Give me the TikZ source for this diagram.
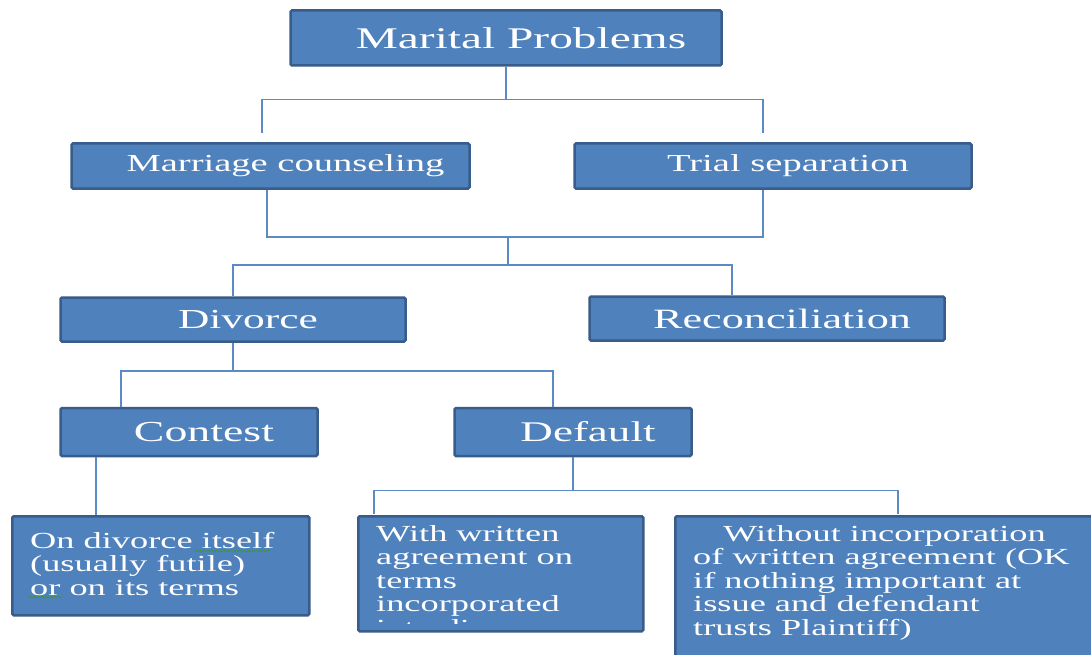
\documentclass[tikz,border=0pt]{standalone}
\usepackage{fontspec}
\setmainfont[FakeStretch=1.58]{Liberation Serif}
\usetikzlibrary{decorations.pathmorphing}

\definecolor{boxfill}{RGB}{79,129,189}
\definecolor{boxedge}{RGB}{56,93,138}
\definecolor{linkcol}{RGB}{91,138,198}
\definecolor{spellgreen}{RGB}{60,150,60}
\newcommand{\bsize}[1]{\fontsize{#1}{#1}\selectfont}

\begin{document}
\begin{tikzpicture}[x=1pt,y=-1pt,
  box/.style={draw=boxedge,fill=boxfill,line width=2.5pt,rounded corners=1.5pt,
    text=white,inner sep=0pt,execute at begin node=\hspace*{30pt}},
  leafbox/.style={draw=boxedge,fill=boxfill,line width=2.5pt,rounded corners=1.5pt,
    inner sep=0pt,anchor=north west},
  leaftext/.style={text=white,inner sep=0pt,align=left,anchor=north west,
    font=\fontsize{23}{23.5}\selectfont},
  link/.style={draw=linkcol,line width=1.5pt},
  squiggle/.style={draw=spellgreen,line width=0.8pt,decorate,
    decoration={snake,amplitude=0.8pt,segment length=4pt}}]
\useasboundingbox (0,0) rectangle (1091,655);
\fill[white] (0,0) rectangle (1091,655);
\clip (0,0) rectangle (1091,655);

% top levels
\node[box,minimum width=431pt,minimum height=55pt,font=\bsize{30}] (marital) at (506,38) {Marital Problems};
\node[box,minimum width=398pt,minimum height=45pt,font=\bsize{24.4}] (counsel) at (270.5,166) {Marriage counseling};
\node[box,minimum width=397pt,minimum height=45pt,font=\bsize{24.4}] (trial) at (773,166) {Trial separation};
\node[box,minimum width=345pt,minimum height=44pt,font=\bsize{27.5}] (divorce) at (233,319.5) {Divorce};
\node[box,minimum width=355pt,minimum height=44pt,font=\bsize{28}] (recon) at (767,318.5) {Reconciliation};
\node[box,minimum width=257pt,minimum height=48pt,font=\bsize{29}] (contest) at (189,432) {Contest};
\node[box,minimum width=237pt,minimum height=48pt,font=\bsize{28.5}] (default) at (573,432) {Default};

% leaves
\node[leafbox,minimum width=297pt,minimum height=99pt] (onterms) at (11,515) {};
\node[leafbox,minimum width=285pt,minimum height=115pt] (written) at (357,515) {};
\node[leafbox,minimum width=460pt,minimum height=170pt] (nowritten) at (674,515) {};

\node[leaftext] (ontermstxt) at ([xshift=19pt,yshift=-17pt]onterms.north west) {On divorce itself\\(usually futile)\\or on its terms};
\begin{scope}
  \clip (written.north west) rectangle ([yshift=9pt]written.south east);
  \node[leaftext] (writtentxt) at ([xshift=19pt,yshift=-10pt]written.north west) {With written\\agreement on\\terms\\incorporated\\into divorce};
\end{scope}
\node[leaftext] (nowrittentxt) at ([xshift=19pt,yshift=-10pt]nowritten.north west) {\hspace*{30pt}Without incorporation\\of written agreement (OK\\if nothing important at\\issue and defendant\\trusts Plaintiff)};

% spelling marks
\draw[squiggle] (195,551) -- (270,551);
\draw[squiggle] (29,597) -- (62,597);

% connectors
\draw[link] (marital.south) -- ++(0,33) coordinate (m0);
\coordinate (mA) at (262,133);
\coordinate (mB) at (763,133);
\draw[link] (mA) |- (m0) -| (mB);

\coordinate (j2) at (508,237);
\draw[link] ([xshift=-3.5pt]counsel.south) |- (j2) -| ([xshift=-10pt]trial.south);
\draw[link] (j2) -- ++(0,28) coordinate (j3);
\draw[link] (divorce.north) |- (j3) -| ([xshift=-35pt]recon.north);

\draw[link] (divorce.south) -- ++(0,28) coordinate (d0);
\draw[link] ([xshift=-68pt]contest.north) |- (d0) -| ([xshift=-20pt]default.north);

\coordinate (c1) at ([xshift=-93pt]contest.south);
\draw[link] (c1) -- (c1 |- onterms.north);

\draw[link] (default.south) -- ++(0,33) coordinate (f0);
\coordinate (f1) at (374,514);
\coordinate (f2) at (898,514);
\draw[link] (f1) |- (f0) -| (f2);
\end{tikzpicture}
\end{document}
